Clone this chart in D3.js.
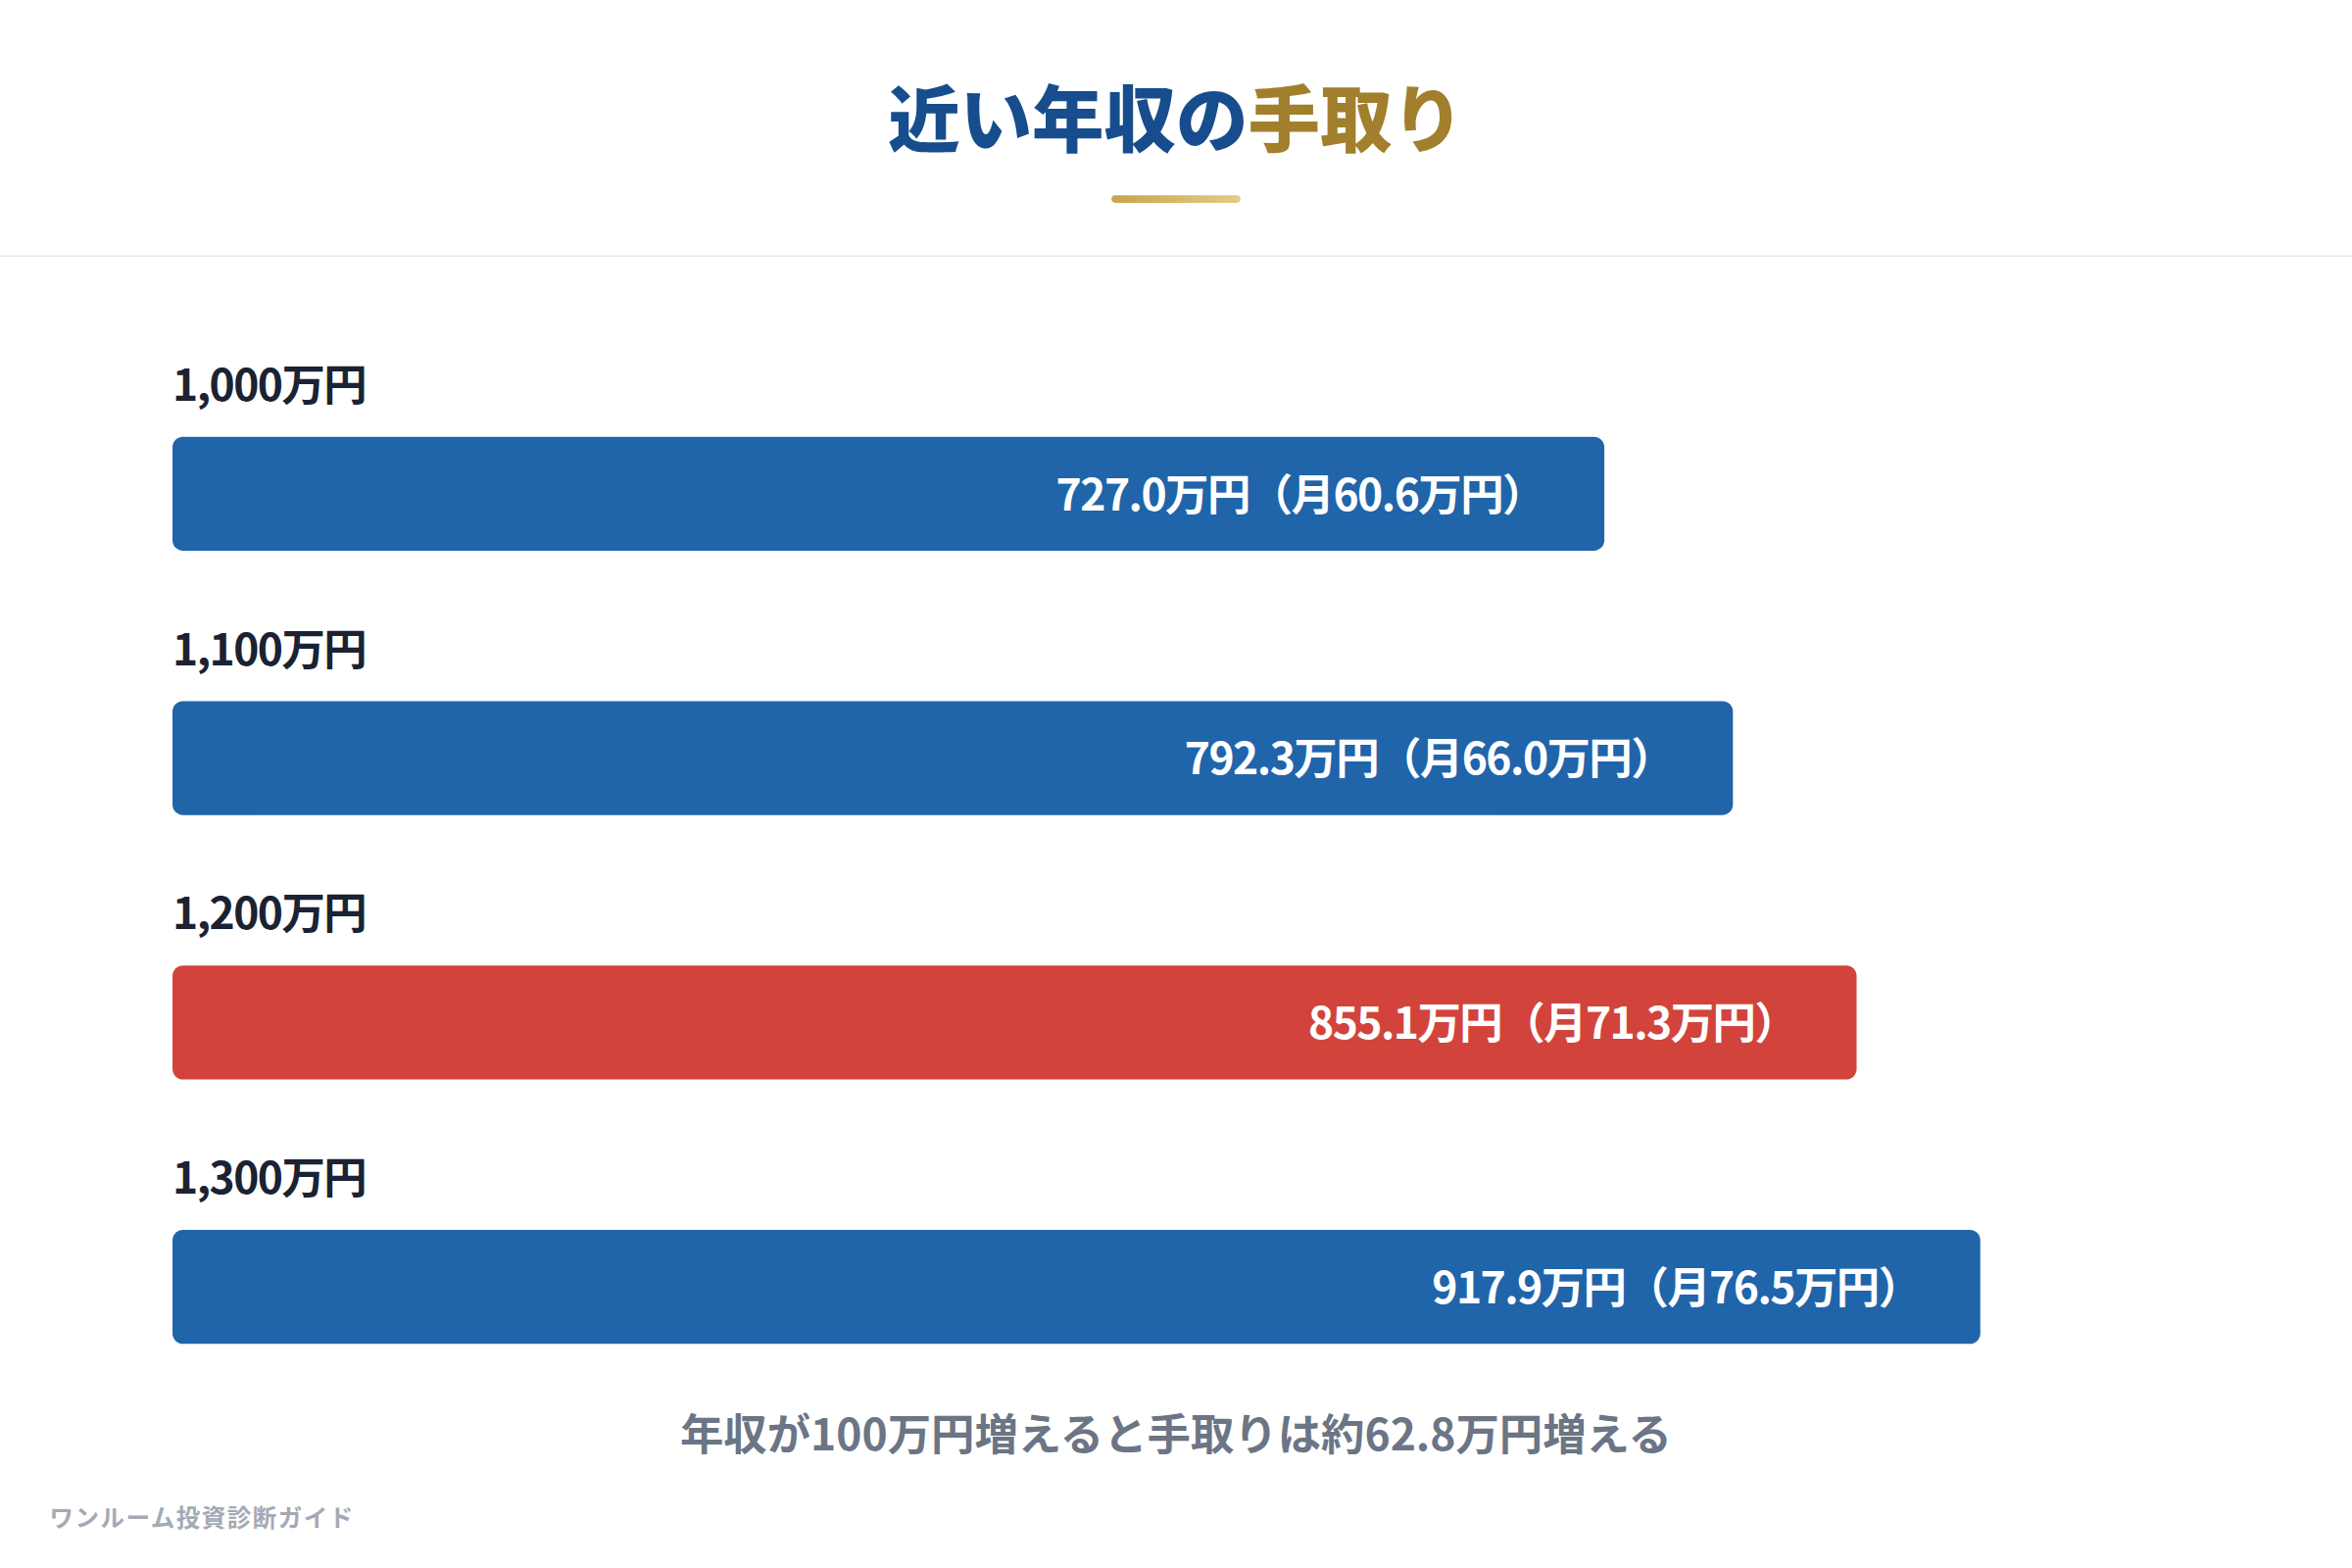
<!DOCTYPE html>
<html><head><meta charset="utf-8">
<script src="https://cdn.jsdelivr.net/npm/d3@7"></script>
<style>body{margin:0;background:#fff}svg{display:block}</style>
</head><body>
<script>
const categories = ["1,000万円","1,100万円","1,200万円","1,300万円"];
const takeHome = [727.0, 792.3, 855.1, 917.9];
const monthly = [60.6, 66.0, 71.3, 76.5];
const highlight = [false, false, true, false];
const titleMain = "近い年収の", titleAccent = "手取り";
const note = "年収が100万円増えると手取りは約62.8万円増える";
const credit = "ワンルーム投資診断ガイド";

const F = "'Noto Sans CJK JP','Noto Sans',sans-serif";
const svg = d3.select("body").append("svg").attr("width",2400).attr("height",1600)
  .attr("viewBox","0 0 1568 1045");
const defs = svg.append("defs");
const g = defs.append("linearGradient").attr("id","gold");
g.append("stop").attr("offset","0").attr("stop-color","#c9a44c");
g.append("stop").attr("offset","1").attr("stop-color","#e3cc86");

const t = svg.append("text").attr("x",784).attr("y",97).attr("text-anchor","middle")
  .attr("font-family",F).attr("font-weight",900).attr("font-size",48);
t.append("tspan").attr("fill","#174d8c").text(titleMain);
t.append("tspan").attr("fill","#a27f2c").text(titleAccent);
svg.append("rect").attr("x",741).attr("y",130).attr("width",86).attr("height",5).attr("rx",2.5).attr("fill","url(#gold)");
svg.append("line").attr("x1",0).attr("x2",1568).attr("y1",170.5).attr("y2",170.5).attr("stroke","#e5e7eb");

const x = d3.scaleLinear().domain([0,1000]).range([115,1428]);
const y = d3.scaleBand().domain(categories).range([291,996]).paddingInner(0);
const bh = 76;
const row = svg.selectAll("g.row").data(categories).join("g");
row.append("text").attr("x",115).attr("y",c=>y(c)-24).attr("font-family",F).attr("font-weight",700)
  .attr("font-size",29).attr("fill","#1a2233").attr("letter-spacing",-1).text(c=>c);
row.append("rect").attr("x",x(0)).attr("y",c=>y(c)).attr("height",bh)
  .attr("width",(c,i)=>x(takeHome[i])-x(0)).attr("rx",7)
  .attr("fill",(c,i)=>highlight[i]?"#d2443b":"#2064aa");
row.append("text").attr("x",(c,i)=>x(takeHome[i])-40).attr("y",c=>y(c)+bh/2+11)
  .attr("text-anchor","end").attr("font-family",F).attr("font-weight",700).attr("font-size",29)
  .attr("fill","#fff").attr("letter-spacing",-1)
  .text((c,i)=>`${takeHome[i].toFixed(1)}万円（月${monthly[i].toFixed(1)}万円）`);

svg.append("text").attr("x",784).attr("y",967).attr("text-anchor","middle").attr("font-family",F)
  .attr("font-weight",700).attr("font-size",29).attr("fill","#6b7585").text(note);
svg.append("text").attr("x",33).attr("y",1018).attr("font-family",F).attr("font-weight",700)
  .attr("font-size",16).attr("fill","#a3aab5").attr("letter-spacing",1).text(credit);
</script>
</body></html>
